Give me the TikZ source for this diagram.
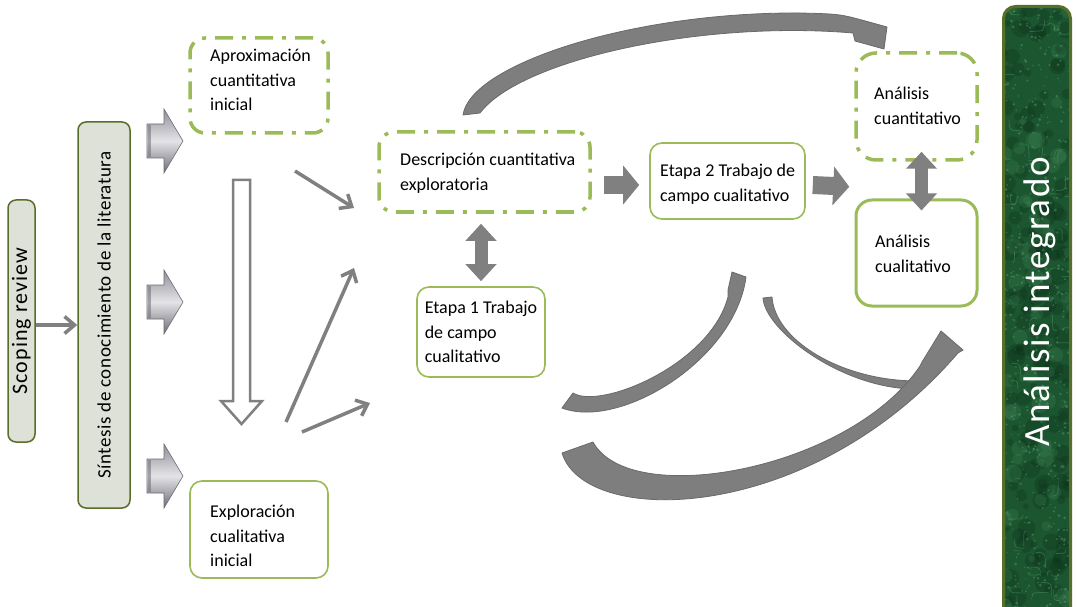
\documentclass[tikz,border=0pt]{standalone}
\usepackage{fontspec}
\setmainfont{Carlito}
\usetikzlibrary{arrows.meta}

\definecolor{ogreen}{HTML}{9BBB59}
\definecolor{olivedk}{HTML}{5A6E2C}
\definecolor{paleg}{HTML}{DDE1D7}
\definecolor{agray}{HTML}{808080}
\definecolor{curvegray}{HTML}{7E7E7E}
\definecolor{curveedge}{HTML}{6A6A6A}
\definecolor{dgreen}{HTML}{1C5630}
\definecolor{lgreen}{HTML}{5FA878}
\definecolor{vdgreen}{HTML}{0C3119}
\definecolor{bevtop}{HTML}{8E8E96}
\definecolor{bevmid}{HTML}{E4E4E8}
\definecolor{bevbot}{HTML}{6C6C74}

\tikzset{
  body/.style={font=\fontsize{18}{24.5}\selectfont},
  dashdot box/.style={body, draw=ogreen, line width=3.5pt, rounded corners=15pt,
    dash pattern=on 18pt off 9pt on 4pt off 9pt, align=left, inner ysep=0pt},
  solid box/.style={body, draw=ogreen, line width=1.6pt, rounded corners=12pt,
    align=left, inner ysep=0pt},
  strong box/.style={body, draw=ogreen, line width=3pt, rounded corners=16pt,
    align=left, inner ysep=0pt},
  box text/.style={body, align=left, anchor=west, inner sep=0pt},
  side box/.style={draw=olivedk, line width=1.5pt, fill=paleg, rounded corners=8pt,
    inner sep=0pt},
  thin arrow/.style={draw=agray, line width=3.5pt,
    -{Straight Barb[length=10pt,width=17pt]}},
  block arrow/.style={draw=agray, line width=18pt,
    -{Triangle[length=16pt,width=38pt]}},
  dbl arrow/.style={draw=agray, line width=13pt,
    {Triangle[length=17pt,width=30pt]}-{Triangle[length=17pt,width=30pt]}},
  hollow arrow/.style={draw=agray, line width=2.5pt, fill=white},
  curved/.style={fill=curvegray, draw=curveedge, line width=0.8pt, line join=round},
  bevel/.style={top color=bevtop, bottom color=bevbot, middle color=bevmid,
    draw=bevbot, line width=0.6pt},
}

\begin{document}
\begin{tikzpicture}[x=1pt,y=-1pt]
\useasboundingbox (0,0) rectangle (1077,607);
\begin{scope}
\clip (0,0) rectangle (1077,607);

% ---- literature column ----
\node[side box, rotate=90, minimum width=242pt, minimum height=27pt,
  font={\fontsize{22}{26}\selectfont\addfontfeatures{LetterSpace=5}}]
  (scop) at (21.5,321) {Scoping review};
\node[side box, rotate=90, minimum width=386pt, minimum height=52pt,
  font={\fontsize{19}{22}\selectfont\addfontfeatures{LetterSpace=3}}]
  (sint) at (104,315) {Síntesis de conocimiento de la literatura};
\draw[thin arrow] ([yshift=-4pt]scop.south) -- ([yshift=-4pt]scop.south -| sint.north);

% bevelled block arrows leaving the synthesis
\foreach \cy in {141,302,476}{
  \shade[bevel] (147,\cy-17) -- (164,\cy-17) -- (164,\cy-32) -- (183,\cy)
    -- (164,\cy+32) -- (164,\cy+17) -- (147,\cy+17) -- cycle;
  \fill[bevbot, opacity=0.55] (148,\cy-16) rectangle (151,\cy+16);
}

% ---- initial stage ----
\node[dashdot box, minimum width=138pt, minimum height=95pt] (aprox) at (259,85.5) {};
\node[box text] (aproxt) at (210,80) {Aproximación\\cuantitativa\\inicial};
\node[solid box, minimum width=138pt, minimum height=97pt] (explo) at (259,529.5) {};
\node[box text] (explot) at (210,536) {Exploración\\cualitativa\\inicial};

% hollow arrow from the quantitative to the qualitative start
\path[hollow arrow] (233,180) -- (250,180) -- (250,401) -- (262,401) -- (241.5,424)
  -- (221,401) -- (233,401) -- cycle;

% ---- exploratory stage ----
\node[dashdot box, minimum width=211pt, minimum height=80pt] (desc) at (484.5,172) {};
\node[box text] (desct) at (400,173) {Descripción cuantitativa\\exploratoria};
\node[solid box, minimum width=128pt, minimum height=90pt] (et1) at (481,332)
  {Etapa 1 Trabajo\\de campo\\cualitativo};
\node[solid box, minimum width=155pt, minimum height=76pt] (et2) at (727.5,181) {};
\node[box text] (et2t) at (660,184) {Etapa 2 Trabajo de\\campo cualitativo};

\coordinate (a1s) at (295,171);
\coordinate (a1e) at (354,208);
\coordinate (a2s) at (286,422);
\coordinate (a2e) at (354,268);
\coordinate (a3s) at (302,432);
\coordinate (a3e) at (370,403);
\draw[thin arrow] (a1s) -- (a1e);
\draw[thin arrow] (a2s) -- (a2e);
\draw[thin arrow] (a3s) -- (a3e);

\draw[dbl arrow] ([yshift=-10pt]desc.south -| et1.north) -- ([yshift=5pt]et1.north);
\draw[block arrow] ([xshift=12pt,yshift=-13pt]desc.east) -- ([xshift=-10pt,yshift=-4pt]et2.west);

% ---- analysis ----
\node[dashdot box, minimum width=121pt, minimum height=107pt, rounded corners=20pt]
  (acuan) at (916.5,106.5) {};
\node[box text] (acuant) at (874,106) {Análisis\\cuantitativo};
\node[strong box, minimum width=121pt, minimum height=106pt] (acual) at (916.5,253) {};
\node[box text] (acualt) at (875,254) {Análisis\\cualitativo};
\draw[block arrow] ([xshift=7pt,yshift=-4pt]et2.east) -- ([xshift=-5pt,yshift=-25pt]acuan.south west);
\draw[dbl arrow] ([xshift=5pt,yshift=10pt]acuan.south) -- ([xshift=5pt,yshift=-12pt]acual.north);

% ---- curved feedback arrows ----
% exploratory description to quantitative analysis
\path[curved] (463,115) .. controls (470,65) and (630,12) .. (800,13)
  .. controls (840,14) .. (869,22) -- (887,27) -- (884,49) -- (855,41) -- (853,33)
  .. controls (700,20) and (520,60) .. (480,113) -- cycle;
% lower left sweep
\path[curved] (573,393) .. controls (600,410) and (710,365) .. (728,297)
  -- (728,290) -- (732,272) -- (746,277)
  .. controls (735,360) and (620,430) .. (562,408) -- cycle;
% thin sweep from stage two
\path[curved] (763,298) -- (772,297) .. controls (775,340) and (840,380) .. (915,381)
  -- (912,389) .. controls (840,387) and (765,330) .. (763,298) -- cycle;
% large sweep into the qualitative analysis
\path[curved] (562,453) .. controls (585,528) and (810,525) .. (958,353)
  -- (963,350) -- (941,331) -- (922,362) -- (920,366)
  .. controls (850,470) and (630,510) .. (593,442) -- cycle;

% ---- integrated analysis bar ----
\begin{scope}
  \clip[rounded corners=12pt] (1003.5,6.5) rectangle (1070.5,640);
  \fill[dgreen] (1000,0) rectangle (1077,640);
  \pgfmathsetseed{1234}
  \foreach \k in {1,...,160}{
    \pgfmathsetmacro\xx{1003+67*rnd}
    \pgfmathsetmacro\yy{4+606*rnd}
    \pgfmathsetmacro\rr{3+7*rnd}
    \fill[vdgreen, opacity=0.3] (\xx,\yy) circle (\rr pt);
  }
  \foreach \k in {1,...,70}{
    \pgfmathsetmacro\xx{1003+67*rnd}
    \pgfmathsetmacro\yy{4+606*rnd}
    \pgfmathsetmacro\rr{3+6*rnd}
    \fill[lgreen, opacity=0.15] (\xx,\yy) circle (\rr pt);
  }
  \foreach \k in {1,...,500}{
    \pgfmathsetmacro\xx{1003+67*rnd}
    \pgfmathsetmacro\yy{4+606*rnd}
    \pgfmathsetmacro\rr{0.5+1.1*rnd}
    \fill[lgreen, opacity=0.4] (\xx,\yy) circle (\rr pt);
  }
  \foreach \k in {1,...,60}{
    \pgfmathsetmacro\xx{1003+67*rnd}
    \pgfmathsetmacro\yy{4+606*rnd}
    \pgfmathsetmacro\dx{-16+32*rnd}
    \pgfmathsetmacro\dy{-16+32*rnd}
    \draw[lgreen, opacity=0.35, line width=0.8pt]
      (\xx,\yy) .. controls (\xx+\dx,\yy) .. (\xx+\dx,\yy+\dy);
  }
\end{scope}
\draw[olivedk, line width=3pt, rounded corners=12pt] (1003.5,640) -- (1003.5,6.5)
  -- (1070.5,6.5) -- (1070.5,640);
\node[rotate=90, text=white, inner sep=0pt,
  font={\fontsize{37}{40}\selectfont\addfontfeatures{LetterSpace=4}}]
  (integ) at (1040,302) {Análisis integrado};

\end{scope}
\end{tikzpicture}
\end{document}
